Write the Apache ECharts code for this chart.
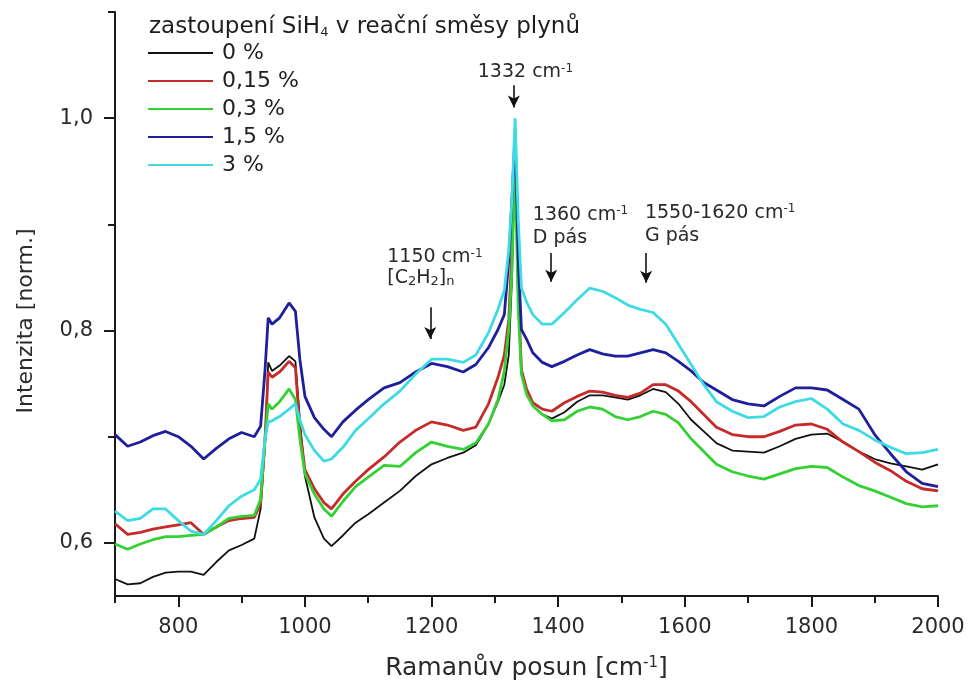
<!DOCTYPE html>
<html><head><meta charset="utf-8">
<script src="https://cdn.jsdelivr.net/npm/echarts@6/dist/echarts.min.js"></script>
<style>html,body{margin:0;padding:0;background:#fff}#c{width:973px;height:691px}</style>
</head><body><div id="c"></div>
<script>
// Raman shift grid (cm^-1)
const wavenumbers = [700,720,740,760,780,800,820,840,860,880,900,920,930,937,942,948,960,975,985,992,1000,1015,1030,1042,1060,1080,1100,1125,1150,1175,1200,1225,1250,1270,1290,1305,1315,1322,1327,1330,1332,1334,1337,1342,1350,1360,1375,1390,1410,1430,1450,1470,1490,1510,1530,1550,1570,1590,1610,1630,1650,1675,1700,1725,1750,1775,1800,1825,1850,1875,1900,1925,1950,1975,2000];

const seriesNames = ['0 %', '0,15 %', '0,3 %', '1,5 %', '3 %'];

const sih4_0 = [0.566,0.561,0.562,0.568,0.572,0.573,0.573,0.570,0.582,0.593,0.598,0.604,
0.632,0.693,0.770,0.762,0.767,0.776,0.771,0.716,
0.663,0.624,0.604,0.597,0.607,0.619,
0.627,0.638,0.649,0.663,0.674,0.680,0.685,0.692,0.712,
0.733,0.749,0.777,0.848,0.923,0.965,0.923,0.829,0.759,
0.743,0.729,0.721,0.717,
0.723,0.733,0.739,0.739,0.737,0.735,0.739,0.745,0.742,0.731,
0.716,0.705,0.694,0.687,0.686,0.685,0.691,0.698,0.702,0.703,0.695,0.686,0.679,0.675,0.672,0.669,0.674];

const sih4_015 = [0.618,0.608,0.610,0.613,0.615,0.617,0.619,0.608,0.615,0.621,0.623,0.624,
0.637,0.698,0.761,0.756,0.761,0.771,0.765,0.707,
0.669,0.651,0.638,0.632,0.646,0.658,
0.669,0.681,0.695,0.706,0.714,0.711,0.706,0.709,0.731,
0.756,0.777,0.810,0.876,0.942,0.975,0.932,0.838,0.763,
0.745,0.732,0.726,0.724,
0.732,0.738,0.743,0.742,0.739,0.737,0.741,0.749,0.749,0.743,
0.733,0.721,0.709,0.702,0.700,0.700,0.705,0.711,0.712,0.707,0.695,0.686,0.676,0.668,0.658,0.651,0.649];

const sih4_03 = [0.599,0.594,0.599,0.603,0.606,0.606,0.607,0.608,0.615,0.623,0.625,0.626,
0.641,0.698,0.731,0.726,0.733,0.745,0.735,0.698,
0.665,0.646,0.632,0.625,0.639,0.653,
0.662,0.673,0.672,0.685,0.695,0.691,0.688,0.694,0.712,
0.735,0.762,0.801,0.857,0.923,0.955,0.904,0.820,0.759,
0.740,0.729,0.721,0.715,
0.716,0.724,0.728,0.726,0.719,0.716,0.719,0.724,0.721,0.713,
0.698,0.686,0.674,0.667,0.663,0.660,0.665,0.670,0.672,0.671,0.662,0.654,0.649,0.643,0.637,0.634,0.635];

const sih4_15 = [0.702,0.691,0.695,0.701,0.705,0.700,0.691,0.679,0.689,0.698,0.704,0.700,
0.710,0.763,0.812,0.806,0.812,0.826,0.818,0.773,
0.738,0.718,0.707,0.700,0.714,0.725,
0.735,0.746,0.751,0.761,0.769,0.766,0.761,0.768,0.784,
0.801,0.815,0.867,0.923,0.961,0.985,0.942,0.867,0.801,
0.792,0.779,0.770,0.766,
0.771,0.777,0.782,0.778,0.776,0.776,0.779,0.782,0.779,0.771,
0.762,0.751,0.744,0.735,0.731,0.729,0.738,0.746,0.746,0.744,0.735,0.726,0.702,0.684,0.667,0.656,0.653];

const sih4_3 = [0.630,0.621,0.623,0.632,0.632,0.621,0.611,0.608,0.621,0.635,0.644,0.650,
0.660,0.698,0.714,0.715,0.719,0.726,0.731,0.716,
0.702,0.687,0.677,0.679,0.690,0.706,
0.717,0.731,0.743,0.759,0.773,0.773,0.770,0.777,0.798,
0.820,0.838,0.876,0.923,0.970,1.000,0.961,0.904,0.840,
0.827,0.815,0.806,0.806,
0.817,0.829,0.840,0.837,0.831,0.824,0.820,0.817,0.806,0.787,
0.768,0.749,0.733,0.724,0.718,0.719,0.728,0.733,0.736,0.726,0.712,0.706,0.697,0.690,0.684,0.685,0.688];

const seriesValues = [sih4_0, sih4_015, sih4_03, sih4_15, sih4_3];
const seriesColors = ['#111111', '#c62a2a', '#33d133', '#1f1f9c', '#3fdbe4'];
const seriesWidths = [1.8, 2.8, 2.8, 2.8, 2.8];

// axis ticks
const xMajorTicks = [800, 1000, 1200, 1400, 1600, 1800, 2000];
const xMinorTicks = [700, 900, 1100, 1300, 1500, 1700, 1900];
const yMajorTicks = [0.6, 0.8, 1.0];
const yMinorTicks = [0.7, 0.9, 1.1];

// peak annotations (data coordinates)
const arrows = [
  {x: 1330, from: 1.031, to: 1.010},
  {x: 1389, from: 0.873, to: 0.846},
  {x: 1539, from: 0.873, to: 0.845},
  {x: 1198, from: 0.822, to: 0.792}
];
const labels = [
  {x: 1273, y: 1.043, text: '1332 cm{sup|-1}'},
  {x: 1360, y: 0.909, text: '1360 cm{sup|-1}'},
  {x: 1360, y: 0.887, text: 'D pás'},
  {x: 1537, y: 0.911, text: '1550-1620 cm{sup|-1}'},
  {x: 1537, y: 0.889, text: 'G pás'},
  {x: 1130, y: 0.869, text: '1150 cm{sup|-1}'},
  {x: 1130, y: 0.849, text: '[C{sub|2}H{sub|2}]{sub|n}'}
];

const FONT = 'DejaVu Sans';
const TXT = '#2a2a2a';
const AX = '#1a1a1a';

const chart = echarts.init(document.getElementById('c'), null, {renderer: 'canvas'});

const series = seriesNames.map((name, k) => ({
  type: 'line',
  name: name,
  xAxisIndex: 0,
  yAxisIndex: 0,
  symbol: 'none',
  showSymbol: false,
  silent: true,
  data: wavenumbers.map((x, i) => [x, seriesValues[k][i]]),
  lineStyle: {color: seriesColors[k], width: seriesWidths[k]},
  itemStyle: {color: seriesColors[k]},
  z: 2 + k
}));
series[0].markLine = {
  silent: true,
  symbol: ['none', 'arrow'],
  symbolSize: [9, 12],
  label: {show: false},
  lineStyle: {color: '#111', width: 1.6, type: 'solid'},
  emphasis: {disabled: true},
  data: arrows.map(a => [{coord: [a.x, a.from]}, {coord: [a.x, a.to]}])
};

const supRich = {
  sup: {fontFamily: FONT, fontSize: 12, verticalAlign: 'top', color: TXT, padding: [0, 0, 6, 0]},
  sub: {fontFamily: FONT, fontSize: 13, verticalAlign: 'bottom', color: TXT, padding: [6, 0, 0, 0]}
};

const option = {
  animation: false,
  backgroundColor: '#ffffff',
  textStyle: {fontFamily: FONT},
  title: {
    text: 'zastoupení SiH{sub|4} v reační směsy plynů',
    left: 144, top: 11,
    textStyle: {fontFamily: FONT, fontSize: 23, fontWeight: 'normal', color: '#1e1e1e',
      rich: {sub: {fontFamily: FONT, fontSize: 13, color: '#1e1e1e', verticalAlign: 'bottom', padding: [8, 0, 0, 0]}}}
  },
  legend: {
    orient: 'vertical', left: 148, top: 42, padding: 0,
    itemWidth: 65, itemHeight: 2, itemGap: 6, icon: 'rect',
    data: seriesNames,
    textStyle: {fontFamily: FONT, fontSize: 22, color: '#222', padding: [0, 0, 0, 4]}
  },
  grid: {left: 115, right: 35, top: 12, bottom: 95, containLabel: false},
  xAxis: [{
    type: 'value', position: 'bottom', min: 700, max: 2000,
    axisLine: {show: true, lineStyle: {color: AX, width: 2}},
    splitLine: {show: false},
    axisTick: {show: true, customValues: xMajorTicks, length: 11, lineStyle: {color: AX, width: 2}},
    axisLabel: {customValues: xMajorTicks, fontFamily: FONT, fontSize: 21, color: TXT, margin: 21,
      formatter: v => String(v)},
    name: 'Ramanův posun [cm{sup|-1}]', nameLocation: 'middle', nameGap: 60,
    nameTextStyle: {fontFamily: FONT, fontSize: 25, color: TXT,
      rich: {sup: {fontFamily: FONT, fontSize: 15, verticalAlign: 'top', color: TXT, padding: [0, 0, 8, 0]}}}
  }, {
    type: 'value', position: 'bottom', min: 700, max: 2000,
    axisLine: {show: false}, splitLine: {show: false}, axisLabel: {show: false},
    axisTick: {show: true, customValues: xMinorTicks, length: 7, lineStyle: {color: AX, width: 2}}
  }],
  yAxis: [{
    type: 'value', position: 'left', min: 0.55, max: 1.1,
    axisLine: {show: true, lineStyle: {color: AX, width: 2}},
    splitLine: {show: false},
    axisTick: {show: true, customValues: yMajorTicks, length: 11, lineStyle: {color: AX, width: 2}},
    axisLabel: {customValues: yMajorTicks, fontFamily: FONT, fontSize: 21, color: TXT, margin: 22,
      formatter: v => v.toFixed(1).replace('.', ',')},
    name: 'Intenzita [norm.]', nameLocation: 'middle', nameGap: 78,
    nameTextStyle: {fontFamily: FONT, fontSize: 22, color: TXT, padding: [0, 34, 0, 0]}
  }, {
    type: 'value', position: 'left', min: 0.55, max: 1.1,
    axisLine: {show: false}, splitLine: {show: false}, axisLabel: {show: false},
    axisTick: {show: true, customValues: yMinorTicks, length: 7, lineStyle: {color: AX, width: 2}}
  }],
  series: series
};
chart.setOption(option);

const graphics = labels.map(l => {
  const p = chart.convertToPixel({xAxisIndex: 0, yAxisIndex: 0}, [l.x, l.y]);
  return {
    type: 'text', x: p[0], y: p[1], z: 100, silent: true,
    style: {text: l.text, fontFamily: FONT, fontSize: 19, fill: TXT,
      align: 'left', verticalAlign: 'middle', rich: supRich}
  };
});
chart.setOption({graphic: graphics});
</script>
</body></html>
